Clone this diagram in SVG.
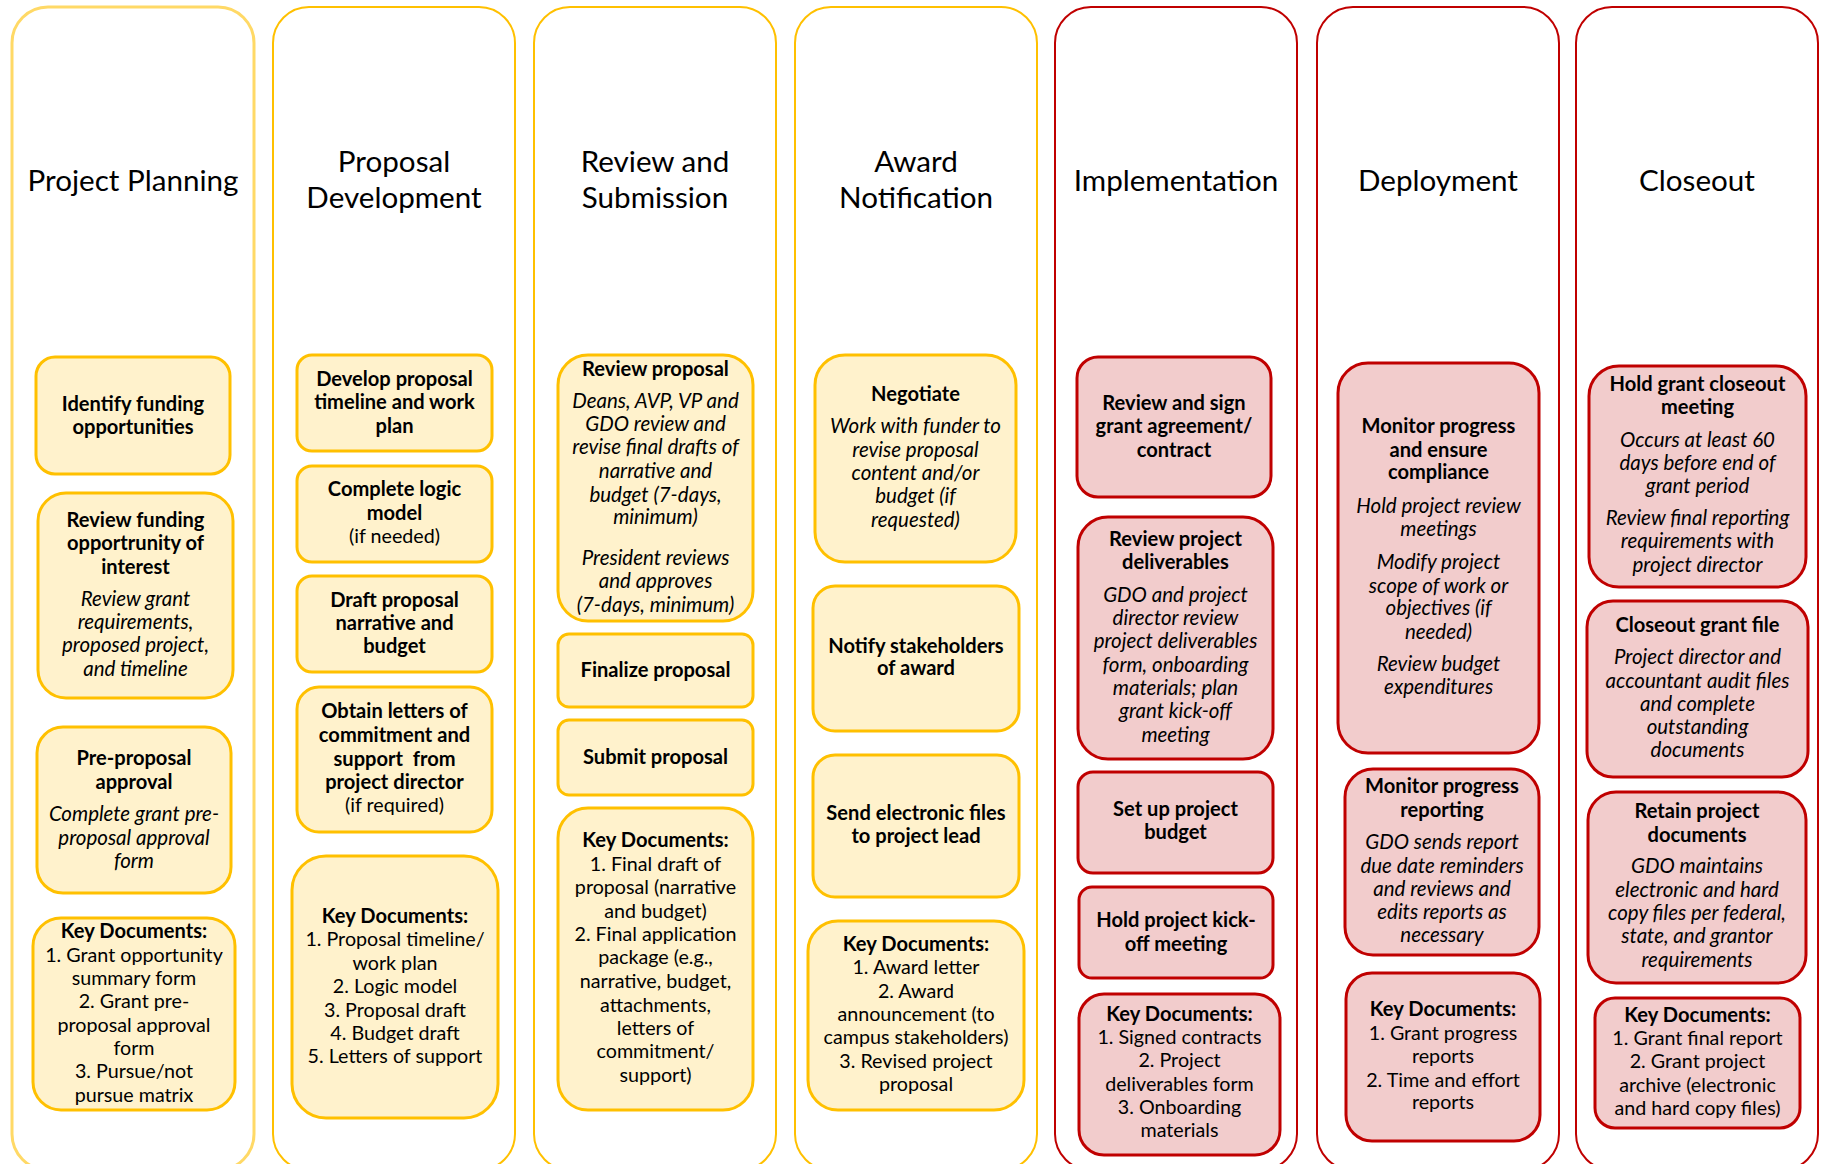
<svg xmlns="http://www.w3.org/2000/svg" width="1824" height="1164" viewBox="0 0 1824 1164">
  <style>
    .col { fill: #FFFFFF; stroke: #FFC000; stroke-width: 2; }
    .col.light { stroke: #FFD966; stroke-width: 3; }
    .col.red { stroke: #C00000; }
    .box { fill: #FFF2CC; stroke: #FFC000; stroke-width: 3; }
    .box.red { fill: #F2CCCC; stroke: #C00000; }
    text { font-family: Lato, "Liberation Sans", sans-serif; font-size: 19.7px; text-anchor: middle; fill: #000000; }
    .h { font-size: 29.6px; }
    .b { font-weight: 700; font-size: 20.1px; }
    .i { font-style: italic; font-size: 20.5px; }
  </style>
  <rect width="1824" height="1164" fill="#FFFFFF"/>

  <!-- Phase 1: Project Planning -->
  <g id="project-planning">
    <rect class="col light" x="12" y="7" width="242" height="1163" rx="36"/>
    <text class="h" x="133" y="191">Project Planning</text>
    <g id="identify-funding">
      <rect class="box" x="36" y="357" width="194" height="117" rx="19"/>
      <text class="b"><tspan x="133" y="411">Identify funding</tspan><tspan x="133" y="434">opportunities</tspan></text>
    </g>
    <g id="review-funding">
      <rect class="box" x="38" y="493" width="195" height="205" rx="28"/>
      <text class="b"><tspan x="135.5" y="527">Review funding</tspan><tspan x="135.5" y="550">opportrunity of</tspan><tspan x="135.5" y="574">interest</tspan></text>
      <text class="i"><tspan x="135.5" y="606">Review grant</tspan><tspan x="135.5" y="629">requirements,</tspan><tspan x="135.5" y="652">proposed project,</tspan><tspan x="135.5" y="676">and timeline</tspan></text>
    </g>
    <g id="pre-proposal-approval">
      <rect class="box" x="37" y="727" width="194" height="166" rx="26"/>
      <text class="b"><tspan x="134" y="765">Pre-proposal</tspan><tspan x="134" y="789">approval</tspan></text>
      <text class="i"><tspan x="134" y="821">Complete grant pre-</tspan><tspan x="134" y="845">proposal approval</tspan><tspan x="134" y="868">form</tspan></text>
    </g>
    <g id="planning-documents">
      <rect class="box" x="33" y="918" width="202" height="192" rx="28"/>
      <text class="b"><tspan x="134" y="938">Key Documents:</tspan></text>
      <text><tspan x="134" y="962">1. Grant opportunity</tspan><tspan x="134" y="985">summary form</tspan><tspan x="134" y="1008">2. Grant pre-</tspan><tspan x="134" y="1032">proposal approval</tspan><tspan x="134" y="1055">form</tspan><tspan x="134" y="1078">3. Pursue/not</tspan><tspan x="134" y="1102">pursue matrix</tspan></text>
    </g>
  </g>

  <!-- Phase 2: Proposal Development -->
  <g id="proposal-development">
    <rect class="col" x="273" y="7" width="242" height="1163" rx="36"/>
    <text class="h"><tspan x="394" y="172">Proposal</tspan><tspan x="394" y="208">Development</tspan></text>
    <g id="develop-timeline">
      <rect class="box" x="297" y="355" width="195" height="96" rx="15"/>
      <text class="b"><tspan x="394.5" y="386">Develop proposal</tspan><tspan x="394.5" y="409">timeline and work</tspan><tspan x="394.5" y="433">plan</tspan></text>
    </g>
    <g id="logic-model">
      <rect class="box" x="297" y="466" width="195" height="96" rx="15"/>
      <text class="b"><tspan x="394.5" y="496">Complete logic</tspan><tspan x="394.5" y="520">model</tspan></text>
      <text><tspan x="394.5" y="543">(if needed)</tspan></text>
    </g>
    <g id="draft-narrative">
      <rect class="box" x="297" y="576" width="195" height="96" rx="15"/>
      <text class="b"><tspan x="394.5" y="607">Draft proposal</tspan><tspan x="394.5" y="630">narrative and</tspan><tspan x="394.5" y="653">budget</tspan></text>
    </g>
    <g id="letters-of-support">
      <rect class="box" x="297" y="687" width="195" height="145" rx="22"/>
      <text class="b"><tspan x="394.5" y="718">Obtain letters of</tspan><tspan x="394.5" y="742">commitment and</tspan><tspan x="394.5" y="766" xml:space="preserve">support  from</tspan><tspan x="394.5" y="789">project director</tspan></text>
      <text><tspan x="394.5" y="812">(if required)</tspan></text>
    </g>
    <g id="development-documents">
      <rect class="box" x="292" y="856" width="206" height="262" rx="34"/>
      <text class="b"><tspan x="395" y="923">Key Documents:</tspan></text>
      <text><tspan x="395" y="946">1. Proposal timeline/</tspan><tspan x="395" y="970">work plan</tspan><tspan x="395" y="993">2. Logic model</tspan><tspan x="395" y="1017">3. Proposal draft</tspan><tspan x="395" y="1040">4. Budget draft</tspan><tspan x="395" y="1063">5. Letters of support</tspan></text>
    </g>
  </g>

  <!-- Phase 3: Review and Submission -->
  <g id="review-submission">
    <rect class="col" x="534" y="7" width="242" height="1163" rx="36"/>
    <text class="h"><tspan x="655" y="172">Review and</tspan><tspan x="655" y="208">Submission</tspan></text>
    <g id="review-proposal">
      <rect class="box" x="558" y="355" width="195" height="266" rx="30"/>
      <text class="b"><tspan x="655.5" y="376">Review proposal</tspan></text>
      <text class="i"><tspan x="655.5" y="408">Deans, AVP, VP and</tspan><tspan x="655.5" y="431">GDO review and</tspan><tspan x="655.5" y="454">revise final drafts of</tspan><tspan x="655.5" y="478">narrative and</tspan><tspan x="655.5" y="502">budget (7-days,</tspan><tspan x="655.5" y="524">minimum)</tspan><tspan x="655.5" y="565">President reviews</tspan><tspan x="655.5" y="588">and approves</tspan><tspan x="655.5" y="612">(7-days, minimum)</tspan></text>
    </g>
    <g id="finalize-proposal">
      <rect class="box" x="558" y="634" width="195" height="73" rx="11"/>
      <text class="b"><tspan x="655.5" y="677">Finalize proposal</tspan></text>
    </g>
    <g id="submit-proposal">
      <rect class="box" x="558" y="720" width="195" height="75" rx="11"/>
      <text class="b"><tspan x="655.5" y="764">Submit proposal</tspan></text>
    </g>
    <g id="submission-documents">
      <rect class="box" x="558" y="808" width="195" height="302" rx="30"/>
      <text class="b"><tspan x="655.5" y="847">Key Documents:</tspan></text>
      <text><tspan x="655.5" y="871">1. Final draft of</tspan><tspan x="655.5" y="894">proposal (narrative</tspan><tspan x="655.5" y="918">and budget)</tspan><tspan x="655.5" y="941">2. Final application</tspan><tspan x="655.5" y="964">package (e.g.,</tspan><tspan x="655.5" y="988">narrative, budget,</tspan><tspan x="655.5" y="1012">attachments,</tspan><tspan x="655.5" y="1035">letters of</tspan><tspan x="655.5" y="1058">commitment/</tspan><tspan x="655.5" y="1082">support)</tspan></text>
    </g>
  </g>

  <!-- Phase 4: Award Notification -->
  <g id="award-notification">
    <rect class="col" x="795" y="7" width="242" height="1163" rx="36"/>
    <text class="h"><tspan x="916" y="172">Award</tspan><tspan x="916" y="208">Notification</tspan></text>
    <g id="negotiate">
      <rect class="box" x="815" y="355" width="201" height="207" rx="30"/>
      <text class="b"><tspan x="915.5" y="401">Negotiate</tspan></text>
      <text class="i"><tspan x="915.5" y="433">Work with funder to</tspan><tspan x="915.5" y="457">revise proposal</tspan><tspan x="915.5" y="480">content and/or</tspan><tspan x="915.5" y="503">budget (if</tspan><tspan x="915.5" y="527">requested)</tspan></text>
    </g>
    <g id="notify-stakeholders">
      <rect class="box" x="813" y="586" width="206" height="145" rx="22"/>
      <text class="b"><tspan x="916" y="653">Notify stakeholders</tspan><tspan x="916" y="675">of award</tspan></text>
    </g>
    <g id="send-files">
      <rect class="box" x="813" y="755" width="206" height="142" rx="22"/>
      <text class="b"><tspan x="916" y="820">Send electronic files</tspan><tspan x="916" y="843">to project lead</tspan></text>
    </g>
    <g id="award-documents">
      <rect class="box" x="808" y="921" width="216" height="189" rx="30"/>
      <text class="b"><tspan x="916" y="951">Key Documents:</tspan></text>
      <text><tspan x="916" y="974">1. Award letter</tspan><tspan x="916" y="998">2. Award</tspan><tspan x="916" y="1021">announcement (to</tspan><tspan x="916" y="1044">campus stakeholders)</tspan><tspan x="916" y="1068">3. Revised project</tspan><tspan x="916" y="1091">proposal</tspan></text>
    </g>
  </g>

  <!-- Phase 5: Implementation -->
  <g id="implementation">
    <rect class="col red" x="1055" y="7" width="242" height="1163" rx="36"/>
    <text class="h" x="1176" y="191">Implementation</text>
    <g id="sign-agreement">
      <rect class="box red" x="1077" y="357" width="194" height="140" rx="21"/>
      <text class="b"><tspan x="1174" y="410">Review and sign</tspan><tspan x="1174" y="433">grant agreement/</tspan><tspan x="1174" y="457">contract</tspan></text>
    </g>
    <g id="review-deliverables">
      <rect class="box red" x="1078" y="517" width="195" height="242" rx="30"/>
      <text class="b"><tspan x="1175.5" y="546">Review project</tspan><tspan x="1175.5" y="569">deliverables</tspan></text>
      <text class="i"><tspan x="1175.5" y="602">GDO and project</tspan><tspan x="1175.5" y="625">director review</tspan><tspan x="1175.5" y="648">project deliverables</tspan><tspan x="1175.5" y="672">form, onboarding</tspan><tspan x="1175.5" y="695">materials; plan</tspan><tspan x="1175.5" y="718">grant kick-off</tspan><tspan x="1175.5" y="742">meeting</tspan></text>
    </g>
    <g id="project-budget">
      <rect class="box red" x="1078" y="772" width="195" height="101" rx="15"/>
      <text class="b"><tspan x="1175.5" y="816">Set up project</tspan><tspan x="1175.5" y="839">budget</tspan></text>
    </g>
    <g id="kick-off-meeting">
      <rect class="box red" x="1079" y="887" width="194" height="91" rx="13"/>
      <text class="b"><tspan x="1176" y="927">Hold project kick-</tspan><tspan x="1176" y="951">off meeting</tspan></text>
    </g>
    <g id="implementation-documents">
      <rect class="box red" x="1079" y="994" width="201" height="161" rx="25"/>
      <text class="b"><tspan x="1179.5" y="1021">Key Documents:</tspan></text>
      <text><tspan x="1179.5" y="1044">1. Signed contracts</tspan><tspan x="1179.5" y="1067">2. Project</tspan><tspan x="1179.5" y="1091">deliverables form</tspan><tspan x="1179.5" y="1114">3. Onboarding</tspan><tspan x="1179.5" y="1137">materials</tspan></text>
    </g>
  </g>

  <!-- Phase 6: Deployment -->
  <g id="deployment">
    <rect class="col red" x="1317" y="7" width="242" height="1163" rx="36"/>
    <text class="h" x="1438" y="191">Deployment</text>
    <g id="monitor-compliance">
      <rect class="box red" x="1338" y="363" width="201" height="390" rx="30"/>
      <text class="b"><tspan x="1438.5" y="433">Monitor progress</tspan><tspan x="1438.5" y="457">and ensure</tspan><tspan x="1438.5" y="479">compliance</tspan></text>
      <text class="i"><tspan x="1438.5" y="513">Hold project review</tspan><tspan x="1438.5" y="536">meetings</tspan><tspan x="1438.5" y="569">Modify project</tspan><tspan x="1438.5" y="593">scope of work or</tspan><tspan x="1438.5" y="615">objectives (if</tspan><tspan x="1438.5" y="639">needed)</tspan><tspan x="1438.5" y="671">Review budget</tspan><tspan x="1438.5" y="694">expenditures</tspan></text>
    </g>
    <g id="monitor-reporting">
      <rect class="box red" x="1345" y="769" width="194" height="186" rx="28"/>
      <text class="b"><tspan x="1442" y="793">Monitor progress</tspan><tspan x="1442" y="817">reporting</tspan></text>
      <text class="i"><tspan x="1442" y="849">GDO sends report</tspan><tspan x="1442" y="873">due date reminders</tspan><tspan x="1442" y="896">and reviews and</tspan><tspan x="1442" y="919">edits reports as</tspan><tspan x="1442" y="942">necessary</tspan></text>
    </g>
    <g id="deployment-documents">
      <rect class="box red" x="1346" y="973" width="194" height="168" rx="26"/>
      <text class="b"><tspan x="1443" y="1016">Key Documents:</tspan></text>
      <text><tspan x="1443" y="1040">1. Grant progress</tspan><tspan x="1443" y="1063">reports</tspan><tspan x="1443" y="1087">2. Time and effort</tspan><tspan x="1443" y="1109">reports</tspan></text>
    </g>
  </g>

  <!-- Phase 7: Closeout -->
  <g id="closeout">
    <rect class="col red" x="1576" y="7" width="242" height="1163" rx="36"/>
    <text class="h" x="1697" y="191">Closeout</text>
    <g id="closeout-meeting">
      <rect class="box red" x="1589" y="366" width="217" height="221" rx="30"/>
      <text class="b"><tspan x="1697.5" y="391">Hold grant closeout</tspan><tspan x="1697.5" y="414">meeting</tspan></text>
      <text class="i"><tspan x="1697.5" y="447">Occurs at least 60</tspan><tspan x="1697.5" y="470">days before end of</tspan><tspan x="1697.5" y="493">grant period</tspan><tspan x="1697.5" y="525">Review final reporting</tspan><tspan x="1697.5" y="548">requirements with</tspan><tspan x="1697.5" y="572">project director</tspan></text>
    </g>
    <g id="closeout-file">
      <rect class="box red" x="1587" y="601" width="221" height="176" rx="26"/>
      <text class="b"><tspan x="1697.5" y="632">Closeout grant file</tspan></text>
      <text class="i"><tspan x="1697.5" y="664">Project director and</tspan><tspan x="1697.5" y="688">accountant audit files</tspan><tspan x="1697.5" y="711">and complete</tspan><tspan x="1697.5" y="734">outstanding</tspan><tspan x="1697.5" y="757">documents</tspan></text>
    </g>
    <g id="retain-documents">
      <rect class="box red" x="1588" y="792" width="218" height="191" rx="28"/>
      <text class="b"><tspan x="1697" y="818">Retain project</tspan><tspan x="1697" y="842">documents</tspan></text>
      <text class="i"><tspan x="1697" y="873">GDO maintains</tspan><tspan x="1697" y="897">electronic and hard</tspan><tspan x="1697" y="920">copy files per federal,</tspan><tspan x="1697" y="943">state, and grantor</tspan><tspan x="1697" y="967">requirements</tspan></text>
    </g>
    <g id="closeout-documents">
      <rect class="box red" x="1595" y="998" width="205" height="130" rx="20"/>
      <text class="b"><tspan x="1697.5" y="1022">Key Documents:</tspan></text>
      <text><tspan x="1697.5" y="1045">1. Grant final report</tspan><tspan x="1697.5" y="1068">2. Grant project</tspan><tspan x="1697.5" y="1092">archive (electronic</tspan><tspan x="1697.5" y="1115">and hard copy files)</tspan></text>
    </g>
  </g>
</svg>
